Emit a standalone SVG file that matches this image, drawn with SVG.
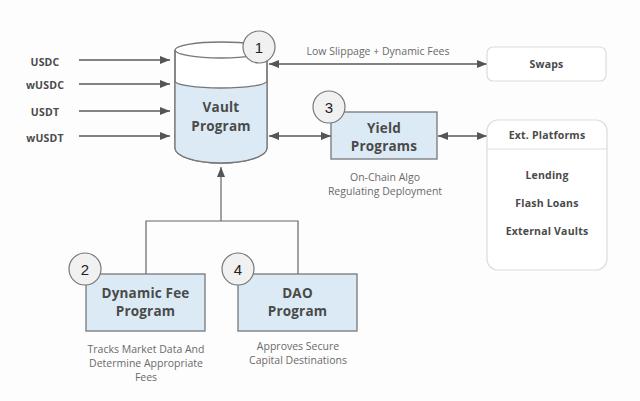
<svg xmlns="http://www.w3.org/2000/svg" width="640" height="401" viewBox="0 0 640 401">
<defs>
<marker id="ah" viewBox="0 0 10 8" refX="10" refY="4" markerWidth="10" markerHeight="8" markerUnits="userSpaceOnUse" orient="auto-start-reverse">
<path d="M0,0 L10,4 L0,8 z" fill="#555"/>
</marker>
<style>
.ln{stroke:#5a5a5a;stroke-width:1.6;fill:none}
.thin{stroke:#666;stroke-width:1.2;fill:none}
.box{fill:#dbeaf4;stroke:#777;stroke-width:1.3}
.wbox{fill:#fff;stroke:#ddd;stroke-width:1.2}
.circ{fill:#f1f1f1;stroke:#777;stroke-width:1.2}
.num{font-family:"Liberation Sans",Arial,sans-serif;font-size:15px;fill:#222;text-anchor:middle}
.tb{font-family:"Open Sans","Noto Sans",sans-serif;font-weight:bold;font-size:13.5px;fill:#4a4a4a;text-anchor:middle;letter-spacing:0.2px}
.ts{font-family:"Open Sans","Noto Sans",sans-serif;font-weight:bold;font-size:10.5px;fill:#4a4a4a;text-anchor:middle;letter-spacing:0.2px}
.cap{font-family:"Open Sans","Noto Sans",sans-serif;font-size:10.5px;fill:#6a6a6a;text-anchor:middle}
</style>
</defs>
<rect width="640" height="401" fill="#fdfdfd"/>

<g id="connectors">
<line class="ln" x1="79" y1="60" x2="170" y2="60" marker-end="url(#ah)"/>
<line class="ln" x1="79" y1="84" x2="170" y2="84" marker-end="url(#ah)"/>
<line class="ln" x1="79" y1="111" x2="170" y2="111" marker-end="url(#ah)"/>
<line class="ln" x1="79" y1="136" x2="170" y2="136" marker-end="url(#ah)"/>
<line class="ln" x1="269" y1="64" x2="487" y2="64" marker-start="url(#ah)" marker-end="url(#ah)"/>
<line class="ln" x1="269" y1="136" x2="331" y2="136" marker-start="url(#ah)" marker-end="url(#ah)"/>
<line class="ln" x1="438" y1="136" x2="487" y2="136" marker-start="url(#ah)" marker-end="url(#ah)"/>
<polyline class="thin" points="146,274 146,221 298,221 298,274"/>
<line class="thin" x1="221" y1="221" x2="221" y2="167" marker-end="url(#ah)"/>
<text class="cap" x="378" y="55">Low Slippage + Dynamic Fees</text>
</g>

<g id="inputs">
<text class="ts" x="45" y="66">USDC</text>
<text class="ts" x="45" y="89">wUSDC</text>
<text class="ts" x="45" y="116">USDT</text>
<text class="ts" x="45" y="142">wUSDT</text>
</g>

<g id="vault">
<path d="M175,50 L175,148 A46,15 0 0 0 267,148 L267,50" fill="#fff" stroke="#777" stroke-width="1.3"/>
<path d="M175,81 A46,7 0 0 0 267,81 L267,148 A46,15 0 0 1 175,148 Z" fill="#dbeaf4" stroke="none"/>
<path d="M175,81 A46,7 0 0 0 267,81" fill="none" stroke="#777" stroke-width="1.3"/>
<path d="M175,50 L175,148 A46,15 0 0 0 267,148 L267,50" fill="none" stroke="#777" stroke-width="1.3"/>
<ellipse cx="221" cy="50" rx="46" ry="8" fill="#fff" stroke="#777" stroke-width="1.3"/>
<text class="tb" x="221" y="112">Vault</text>
<text class="tb" x="221" y="131">Program</text>
<circle class="circ" cx="259" cy="47" r="16"/>
<text class="num" x="259" y="52.5">1</text>
</g>

<g id="swaps">
<rect class="wbox" x="487" y="47" width="119" height="34" rx="6"/>
<text class="ts" x="546.5" y="68">Swaps</text>
</g>

<g id="yield">
<rect class="box" x="331" y="112" width="106" height="47"/>
<text class="tb" x="384" y="133">Yield</text>
<text class="tb" x="384" y="151">Programs</text>
<circle class="circ" cx="329" cy="107" r="16"/>
<text class="num" x="329" y="112.5">3</text>
<text class="cap" x="385" y="181">On-Chain Algo</text>
<text class="cap" x="385" y="195">Regulating Deployment</text>
</g>

<g id="platforms">
<rect class="wbox" x="487" y="120" width="120" height="150" rx="11"/>
<line x1="487" y1="149" x2="607" y2="149" stroke="#ddd" stroke-width="1.2"/>
<text class="ts" x="547" y="139">Ext. Platforms</text>
<text class="ts" x="547" y="179">Lending</text>
<text class="ts" x="547" y="207">Flash Loans</text>
<text class="ts" x="547" y="235">External Vaults</text>
</g>

<g id="dynamic-fee">
<rect class="box" x="86" y="274" width="119" height="57"/>
<text class="tb" x="145.5" y="298">Dynamic Fee</text>
<text class="tb" x="145.5" y="316">Program</text>
<circle class="circ" cx="85" cy="269" r="16"/>
<text class="num" x="85" y="274.5">2</text>
<text class="cap" x="146" y="353">Tracks Market Data And</text>
<text class="cap" x="146" y="367">Determine Appropriate</text>
<text class="cap" x="146" y="381">Fees</text>
</g>

<g id="dao">
<rect class="box" x="238" y="274" width="119" height="57"/>
<text class="tb" x="297.5" y="298">DAO</text>
<text class="tb" x="297.5" y="316">Program</text>
<circle class="circ" cx="238" cy="269" r="16"/>
<text class="num" x="238" y="274.5">4</text>
<text class="cap" x="298" y="350">Approves Secure</text>
<text class="cap" x="298" y="364">Capital Destinations</text>
</g>
</svg>
